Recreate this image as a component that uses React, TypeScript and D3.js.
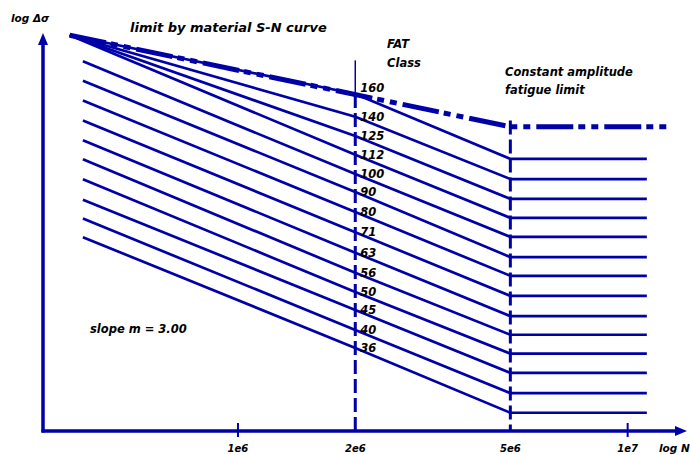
import React from 'react';
import * as d3 from 'd3';

// FAT classes (stress range at N = 2e6)
const fatClasses = [160, 140, 125, 112, 100, 90, 80, 71, 63, 56, 50, 45, 40, 36];
// start of each S-N line (cycles, stress) as drawn in the reference
const startCycles = [3.7e5, 3.7e5, 3.7e5, 3.7e5, 4.0e5, 4.0e5, 4.0e5, 4.0e5, 4.0e5, 4.0e5, 4.0e5, 4.0e5, 4.0e5, 4.0e5];
const startStress = [226, 226, 226, 226, 194, 173, 154, 137, 122, 109, 97, 86, 77, 69];
// constant amplitude fatigue limit (stress at knee point, 5e6 cycles)
const caflStress = [109.3, 97.1, 86.4, 77.3, 69.1, 61.4, 55.0, 48.9, 43.4, 38.9, 34.8, 31.1, 27.6, 24.6];
const referenceCycles = 2e6;
const kneeCycles = 5e6;
const endCycles = 1.12e7;

// limit by material S-N curve
const limitCycles = [3.7e5, 5e6, 1.26e7];
const limitStress = [226, 132, 132];

// vertical reference lines
const refLineCycles = [2e6, 5e6];
const refLineTop = [195, 137];

// x axis ticks
const tickValues = [1e6, 2e6, 5e6, 1e7];
const tickLabels = ['1e6', '2e6', '5e6', '1e7'];
const smallTicks = [1e6, 1e7];

const slopeM = 3.0;

const W = 690;
const H = 455;
const BLUE = '#0000a8';
const FONT = '"DejaVu Sans", Verdana, sans-serif';

export default function App() {
  const x = d3.scaleLog().domain([3.16e5, 1.42e7]).range([43, 687]);
  const y = d3.scaleLog().domain([22.1, 229]).range([431, 33]);
  const line = d3
    .line<[number, number]>()
    .x((d) => x(d[0]))
    .y((d) => y(d[1]));

  const x0 = x.range()[0];
  const x1 = x.range()[1];
  const yb = y.range()[0];
  const yt = y.range()[1];

  const textStyle: React.CSSProperties = {
    fontFamily: FONT,
    fontWeight: 'bold',
    fontStyle: 'italic',
  };

  return (
    <svg
      width={W}
      height={H}
      style={{ position: 'absolute', left: 0, top: 0, background: '#fff' }}
    >
      {/* S-N lines */}
      {fatClasses.map((fat, i) => (
        <path
          key={'fat' + fat}
          d={
            line([
              [startCycles[i], startStress[i]],
              [referenceCycles, fat],
              [kneeCycles, caflStress[i]],
              [endCycles, caflStress[i]],
            ]) || ''
          }
          fill="none"
          stroke={BLUE}
          strokeWidth={2.7}
          strokeLinejoin="miter"
        />
      ))}

      {/* vertical reference lines */}
      <line
        x1={x(refLineCycles[0])}
        x2={x(refLineCycles[0])}
        y1={y(refLineTop[0])}
        y2={y(fatClasses[0])}
        stroke={BLUE}
        strokeWidth={1.5}
      />
      {refLineCycles.map((n, i) => (
        <line
          key={'ref' + n}
          x1={x(n)}
          x2={x(n)}
          y1={i === 0 ? y(fatClasses[0]) : y(refLineTop[i])}
          y2={yb}
          stroke={BLUE}
          strokeWidth={3}
          strokeDasharray="14 5"
        />
      ))}

      {/* limit by material S-N curve */}
      <path
        d={line(limitCycles.map((n, i) => [n, limitStress[i]] as [number, number])) || ''}
        fill="none"
        stroke={BLUE}
        strokeWidth={5}
        strokeDasharray="37 5 7 6 7 6"
      />

      {/* axes */}
      <line x1={x0} x2={x0} y1={yb + 1.5} y2={yt + 10} stroke={BLUE} strokeWidth={3.5} />
      <path
        d={`M${x0},${yt} L${x0 - 5},${yt + 12} L${x0 + 5},${yt + 12} Z`}
        fill={BLUE}
      />
      <line x1={x0 - 1.5} x2={x1 - 10} y1={yb} y2={yb} stroke={BLUE} strokeWidth={3.5} />
      <path
        d={`M${x1},${yb} L${x1 - 12},${yb - 5} L${x1 - 12},${yb + 5} Z`}
        fill={BLUE}
      />
      {smallTicks.map((t) => (
        <line
          key={'tk' + t}
          x1={x(t)}
          x2={x(t)}
          y1={yb - 8}
          y2={yb + 6}
          stroke={BLUE}
          strokeWidth={2}
        />
      ))}
      {tickValues.map((t, i) => (
        <text
          key={'tl' + t}
          x={x(t)}
          y={452}
          textAnchor="middle"
          fontSize={10}
          style={textStyle}
          fill="#000"
        >
          {tickLabels[i]}
        </text>
      ))}
      <text x={659} y={452} fontSize={10.5} style={textStyle} fill="#000">
        log N
      </text>
      <text x={11} y={22} fontSize={10.5} style={textStyle} fill="#000">
        log Δσ
      </text>

      {/* annotations */}
      <text x={130} y={32} fontSize={13} style={textStyle} fill="#000">
        limit by material S-N curve
      </text>
      <text x={387} y={48} fontSize={11.5} style={textStyle} fill="#000">
        FAT
      </text>
      <text x={387} y={67} fontSize={11.5} style={textStyle} fill="#000">
        Class
      </text>
      <text x={505} y={76} fontSize={11.5} style={textStyle} fill="#000">
        Constant amplitude
      </text>
      <text x={505} y={94} fontSize={11.5} style={textStyle} fill="#000">
        fatigue limit
      </text>
      <text x={90} y={333} fontSize={11.5} style={textStyle} fill="#000">
        {`slope m = ${slopeM.toFixed(2)}`}
      </text>

      {/* FAT labels */}
      {fatClasses.map((fat, i) => (
        <text
          key={'lab' + fat}
          x={x(referenceCycles) + 5}
          y={y(fat) + (i === 0 ? -2 : 4)}
          fontSize={11.5}
          style={textStyle}
          fill="#000"
        >
          {fat}
        </text>
      ))}
    </svg>
  );
}
